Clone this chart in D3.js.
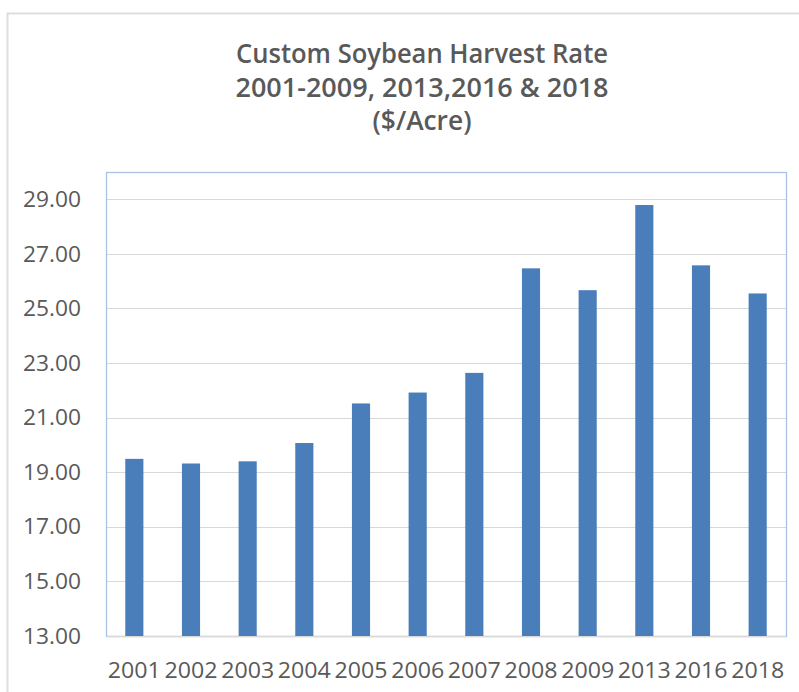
<!DOCTYPE html>
<html>
<head>
<meta charset="utf-8">
<script src="https://cdn.jsdelivr.net/npm/d3@7"></script>
<style>
  html, body { margin: 0; padding: 0; background: #fff; }
  svg { display: block; }
</style>
</head>
<body>
<svg id="chart" width="799" height="692"></svg>
<script>
const titleLines = ["Custom Soybean Harvest Rate", "2001-2009, 2013,2016 & 2018", "($/Acre)"];
const categories = ["2001","2002","2003","2004","2005","2006","2007","2008","2009","2013","2016","2018"];
const values = [19.49, 19.32, 19.40, 20.07, 21.52, 21.92, 22.64, 26.47, 25.67, 28.79, 26.58, 25.55];
const yTicks = [13, 15, 17, 19, 21, 23, 25, 27, 29];
const yDomain = [13, 30];

const svg = d3.select("#chart");
const W = 799, H = 692;
const plot = { left: 106, top: 172, right: 786, bottom: 636 };
const textColor = "#595959";
const font = "'Open Sans', 'Liberation Sans', sans-serif";

svg.append("rect").attr("x", 0).attr("y", 0).attr("width", W).attr("height", H).attr("fill", "#fff");

// outer chart border
svg.append("rect")
  .attr("x", 7.5).attr("y", 13.5)
  .attr("width", W + 10).attr("height", H + 10)
  .attr("fill", "none").attr("stroke", "#dedede").attr("stroke-width", 2);

// title
const titleCx = 422;
const titleBase = [63, 97, 130];
const titleWidths = [372, 373, 99];
titleLines.forEach((t, i) => {
  svg.append("text")
    .attr("x", titleCx).attr("y", titleBase[i])
    .attr("text-anchor", "middle")
    .attr("font-family", font).attr("font-weight", 600)
    .attr("font-size", 26.5)
    .attr("fill", textColor)
    .attr("textLength", titleWidths[i])
    .attr("lengthAdjust", "spacingAndGlyphs")
    .text(t);
});

const x = d3.scaleBand().domain(categories)
  .range([plot.left, plot.right])
  .paddingInner(0.68).paddingOuter(0.34);
const y = d3.scaleLinear().domain(yDomain).range([plot.bottom, plot.top]);

// gridlines
svg.append("g")
  .selectAll("line").data(yTicks).join("line")
  .attr("x1", plot.left).attr("x2", plot.right)
  .attr("y1", d => Math.round(y(d)) + 0.5).attr("y2", d => Math.round(y(d)) + 0.5)
  .attr("stroke", "#d9d9d9").attr("stroke-width", 1.2);

// plot border (light blue)
svg.append("rect")
  .attr("x", plot.left + 0.5).attr("y", plot.top + 0.5)
  .attr("width", plot.right - plot.left).attr("height", plot.bottom - plot.top)
  .attr("fill", "none").attr("stroke", "#a9c4e2").attr("stroke-width", 1.3);
// bottom baseline in grey
svg.append("line")
  .attr("x1", plot.left + 1).attr("x2", plot.right)
  .attr("y1", Math.round(y(13)) + 0.5).attr("y2", Math.round(y(13)) + 0.5)
  .attr("stroke", "#d9d9d9").attr("stroke-width", 1.3);

// bars
svg.append("g")
  .selectAll("rect").data(values).join("rect")
  .attr("x", (d, i) => x(categories[i]))
  .attr("width", x.bandwidth())
  .attr("y", d => y(d))
  .attr("height", d => y(yDomain[0]) - y(d))
  .attr("fill", "#4a7ebb");

// y axis labels
const yAxis = d3.axisLeft(y).tickValues(yTicks).tickFormat(d3.format(".2f")).tickSize(0).tickPadding(0);
const gy = svg.append("g").attr("transform", `translate(81,0)`).call(yAxis);
gy.select(".domain").remove();
gy.selectAll("text")
  .attr("font-family", font).attr("font-size", 21)
  .attr("fill", textColor).attr("dy", "0.34em")
  .attr("textLength", 58).attr("lengthAdjust", "spacingAndGlyphs");

// x axis labels
const xAxis = d3.axisBottom(x).tickSize(0).tickPadding(0);
const gx = svg.append("g").attr("transform", `translate(0,678)`).call(xAxis);
gx.select(".domain").remove();
gx.selectAll("text")
  .attr("font-family", font).attr("font-size", 21)
  .attr("fill", textColor).attr("dy", "0")
  .attr("textLength", 53).attr("lengthAdjust", "spacingAndGlyphs");
</script>
</body>
</html>
